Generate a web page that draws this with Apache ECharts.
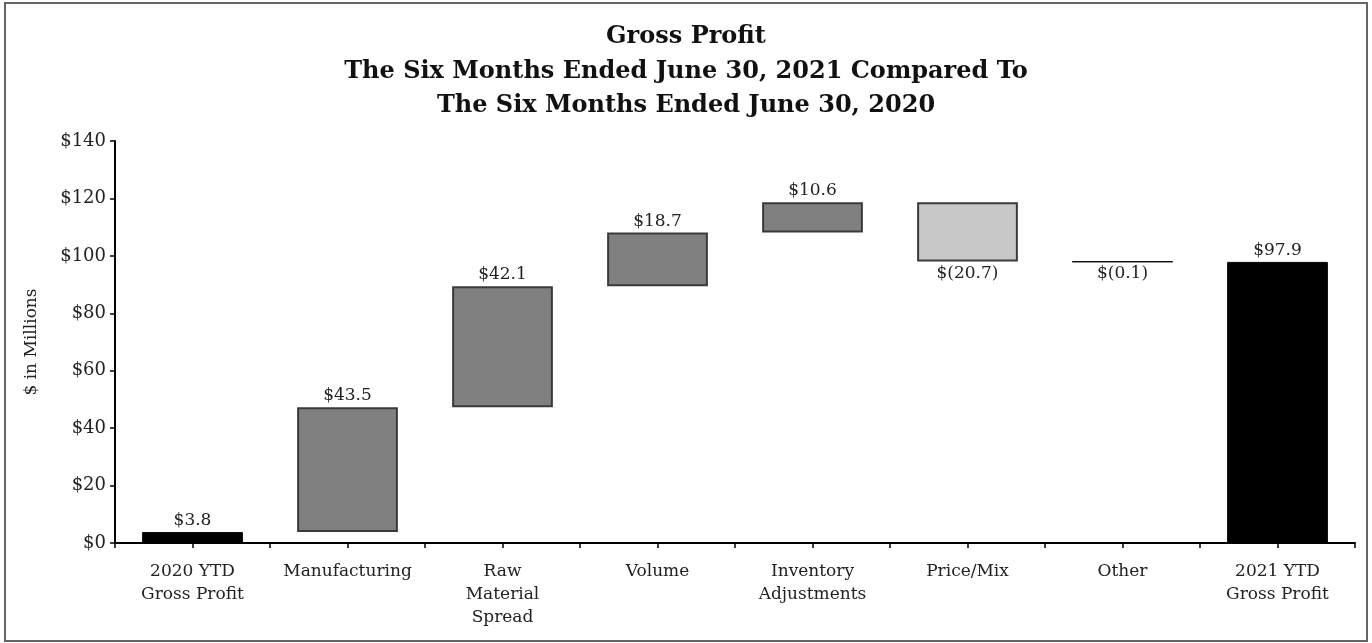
<!DOCTYPE html>
<html>
<head>
<meta charset="utf-8">
<script src="https://cdn.jsdelivr.net/npm/echarts@6/dist/echarts.min.js"></script>
<style>
  html, body { margin: 0; padding: 0; background: #fff; }
  #chart { width: 1372px; height: 643px; }
</style>
</head>
<body>
<div id="chart"></div>
<script>
// Gross profit bridge: 2020 YTD -> 2021 YTD ($ in millions)
const categories = ['2020 YTD\nGross Profit', 'Manufacturing', 'Raw\nMaterial\nSpread', 'Volume',
  'Inventory\nAdjustments', 'Price/Mix', 'Other', '2021 YTD\nGross Profit'];
const startValue = 3.8;
const changes = [43.5, 42.1, 18.7, 10.6, -20.7, -0.1];
const endValue = 97.9;
const yTicks = [0, 20, 40, 60, 80, 100, 120, 140];

const serif = 'DejaVu Serif';

function money(v) {
  return v < 0 ? '$(' + Math.abs(v).toFixed(1) + ')' : '$' + v.toFixed(1);
}

// Build invisible bases and visible steps for the waterfall
const base = [0];
const step = [{ value: startValue, delta: startValue, kind: 'total' }];
let running = startValue;
changes.forEach(d => {
  const lo = d >= 0 ? running : running + d;
  base.push(lo);
  step.push({ value: Math.abs(d), delta: d, kind: d >= 0 ? 'up' : 'down' });
  running += d;
});
base.push(0);
step.push({ value: endValue, delta: endValue, kind: 'total' });

const styleFor = {
  total: { color: '#000000', borderColor: '#000000', borderWidth: 1 },
  up:    { color: '#808080', borderColor: '#3a3a3a', borderWidth: 2 },
  down:  { color: '#c8c8c8', borderColor: '#3a3a3a', borderWidth: 2 }
};

const stepData = step.map(s => ({
  value: s.value,
  itemStyle: s.kind === 'down' && s.value < 0.5
    ? { color: '#000', borderColor: '#000', borderWidth: 1 }
    : styleFor[s.kind],
  label: {
    show: true,
    position: s.delta < 0 ? 'bottom' : 'top',
    distance: 3,
    formatter: money(s.delta)
  }
}));

const halfTicks = Array.from({ length: categories.length * 2 }, (_, i) => String(i));

const chart = echarts.init(document.getElementById('chart'));
chart.setOption({
  animation: false,
  backgroundColor: '#fff',
  title: {
    text: 'Gross Profit\nThe Six Months Ended June 30, 2021 Compared To\nThe Six Months Ended June 30, 2020',
    left: 'center',
    top: 15,
    textStyle: { fontFamily: serif, fontWeight: 'bold', fontSize: 24, lineHeight: 34.5, color: '#111' }
  },
  graphic: [{
    type: 'rect',
    shape: { x: 5, y: 3, width: 1362, height: 638 },
    style: { fill: 'none', stroke: '#666', lineWidth: 2 },
    silent: true
  }],
  grid: { left: 115, right: 17, top: 141, bottom: 100 },
  xAxis: [{
    type: 'category',
    data: categories,
    axisLine: { lineStyle: { color: '#000', width: 2 } },
    axisTick: { show: false },
    axisLabel: { fontFamily: serif, fontSize: 17, color: '#222', lineHeight: 23, margin: 17, interval: 0 }
  }, {
    type: 'category',
    data: halfTicks,
    position: 'bottom',
    axisLine: { show: false },
    axisTick: { show: true, length: 5, lineStyle: { color: '#000', width: 1.5 } },
    axisLabel: { show: false }
  }],
  yAxis: {
    type: 'value',
    min: 0, max: 140, interval: 20,
    name: '$ in Millions',
    nameLocation: 'middle',
    nameGap: 75,
    nameTextStyle: { fontFamily: serif, fontSize: 17, color: '#222' },
    axisLine: { show: true, lineStyle: { color: '#000', width: 2 } },
    axisTick: { show: true, length: 5, lineStyle: { color: '#000', width: 1.5 } },
    splitLine: { show: false },
    axisLabel: {
      fontFamily: serif, fontSize: 18, color: '#222', margin: 9,
      formatter: v => yTicks.includes(v) ? '$' + v : ''
    }
  },
  series: [{
    type: 'bar',
    stack: 'wf',
    data: base,
    itemStyle: { color: 'transparent' },
    barCategoryGap: '35%',
    silent: true
  }, {
    type: 'bar',
    stack: 'wf',
    data: stepData,
    barCategoryGap: '35%',
    label: { fontFamily: serif, fontSize: 17, color: '#222' }
  }]
});
</script>
</body>
</html>
